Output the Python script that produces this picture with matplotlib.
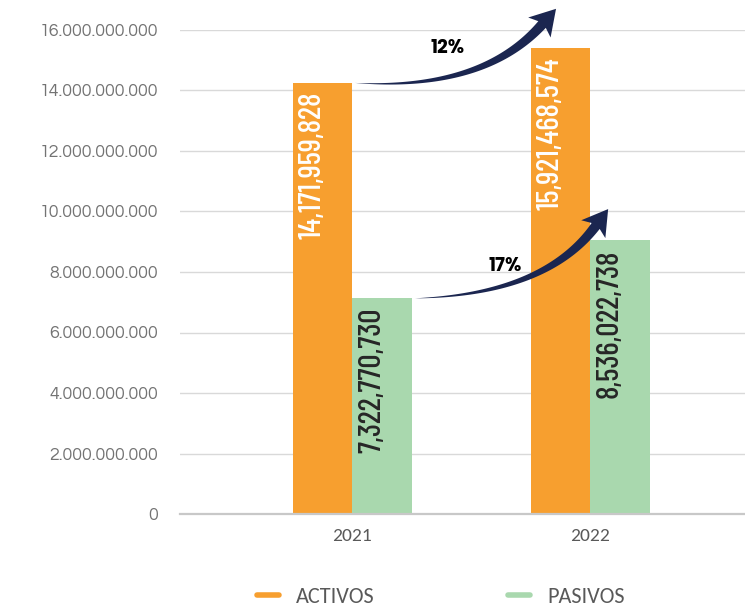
import numpy as np
import matplotlib
matplotlib.use("Agg")
import matplotlib.pyplot as plt
import matplotlib.ticker as ticker
from matplotlib.patches import Polygon
from matplotlib.lines import Line2D
from matplotlib.transforms import IdentityTransform

# data
years = ['2021', '2022']
activos = [14.25e9, 15.41e9]
pasivos = [7.13e9, 9.05e9]
activos_lbl = ['14,171,959,828', '15,921,468,574']
pasivos_lbl = ['7,322,770,730', '8,536,022,738']
growth = ['12%', '17%']

c_act = '#F79F2F'
c_pas = '#A9D8AE'
navy = '#1B2650'

fig = plt.figure(figsize=(7.45, 6.07), dpi=100)
ax = fig.add_axes([180/745, 1-514/607, 565/745, 484/607])

x = np.arange(len(years))
w = 0.25
b1 = ax.bar(x - w/2, activos, w, color=c_act, zorder=3)
b2 = ax.bar(x + w/2, pasivos, w, color=c_pas, zorder=3)

ax.set_xlim(-0.723, 1.651)
ax.set_ylim(0, 16e9)
ax.yaxis.set_major_locator(ticker.MultipleLocator(2e9))
ax.yaxis.set_major_formatter(ticker.FuncFormatter(lambda v, p: f"{v:,.0f}".replace(',', '.')))
ax.grid(True, axis='y', color='#d9d9d9', lw=1, zorder=0)
for s in ['top', 'right', 'left']:
    ax.spines[s].set_visible(False)
ax.spines['bottom'].set_color('#c8c8c8')
ax.spines['bottom'].set_linewidth(1.6)
ax.spines['bottom'].set_zorder(4)
ax.tick_params(axis='y', length=0, pad=16)
ax.tick_params(axis='x', length=0, pad=10)
for lb in ax.get_yticklabels():
    lb.set_fontfamily(['Questrial', 'DejaVu Sans'])
    lb.set_fontsize(12.8)
    lb.set_color('#737373')
ax.set_xticks(x)
ax.set_xticklabels(years, fontsize=14, color='#595959', family=['Carlito', 'DejaVu Sans'])

narrow = ['Barlow Condensed', 'DejaVu Sans']
for bars, labels, col in [(b1, activos_lbl, 'white'), (b2, pasivos_lbl, '#262626')]:
    for r, t in zip(bars, labels):
        ax.annotate(t, (r.get_x() + r.get_width()/2, r.get_height()),
                    xytext=(-7, -6.5), textcoords='offset points',
                    rotation=90, ha='center', va='top', fontsize=22.5,
                    fontweight=500, color=col, family=narrow, zorder=5)


def curved_arrow(start, ctrl, tip, head_len=21, head_half=15, wmax=10):
    T = ax.transData
    p0, p1, ptip = T.transform([start, ctrl, tip])
    u = ptip - p1
    u = u / np.hypot(*u)
    p2 = ptip - u * head_len
    t = np.linspace(0, 1, 80)[:, None]
    pts = (1-t)**2 * p0 + 2*(1-t)*t * p1 + t**2 * p2
    d = 2*(1-t)*(p1 - p0) + 2*t*(p2 - p1)
    d = d / np.hypot(d[:, 0], d[:, 1])[:, None]
    n = np.column_stack([-d[:, 1], d[:, 0]])
    hw = (wmax/2) * t[:, 0]**0.9
    left = pts + n * hw[:, None]
    right = pts - n * hw[:, None]
    nn = np.array([-u[1], u[0]])
    wing_l = p2 - u*4 + nn*head_half
    wing_r = p2 - u*4 - nn*head_half
    poly = np.vstack([left, [wing_l, ptip, wing_r], right[::-1]])
    fig.add_artist(Polygon(poly, closed=True, color=navy, lw=0,
                           transform=IdentityTransform(), zorder=6))


curved_arrow((0.013, activos[0]), (0.55, 13.99e9), (0.857, 16.7e9))
curved_arrow((0.265, pasivos[0]), (0.81, 7.25e9), (1.076, 10.08e9))

pct_font = ['Poppins', 'DejaVu Sans']
ax.text(0.40, 15.38e9, growth[0], ha='center', va='center', fontsize=13.5,
        fontweight='bold', color='black', family=pct_font, zorder=6)
ax.text(0.643, 8.19e9, growth[1], ha='center', va='center', fontsize=13.5,
        fontweight='bold', color='black', family=pct_font, zorder=6)

handles = [Line2D([], [], color=c_act, lw=4, solid_capstyle='round'),
           Line2D([], [], color=c_pas, lw=4, solid_capstyle='round')]
fig.legend(handles, ['ACTIVOS', 'PASIVOS'], loc='center', ncol=2,
           bbox_to_anchor=(441/745, 1-597/607), frameon=False,
           prop={'family': ['Carlito', 'DejaVu Sans'], 'size': 16}, labelcolor='#595959',
           handlelength=1.0, handletextpad=0.77, columnspacing=6.0)

fig.savefig('out.png', dpi=100)
